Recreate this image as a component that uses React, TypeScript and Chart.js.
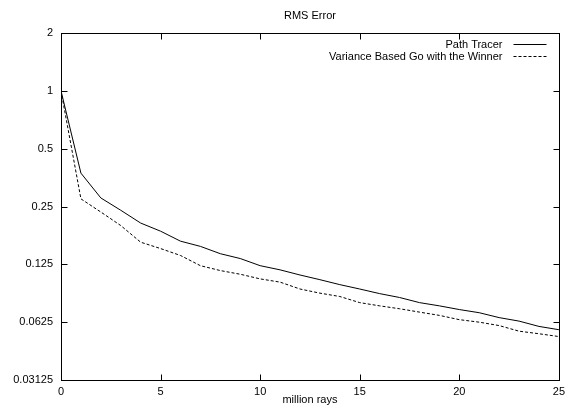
import React, { useEffect, useRef } from 'react';
import { Chart, registerables } from 'chart.js';

Chart.register(...registerables);

const TITLE = 'RMS Error';
const X_TITLE = 'million rays';
const X_VALUES = [0, 1, 2, 3, 4, 5, 6, 7, 8, 9, 10, 11, 12, 13, 14, 15, 16, 17, 18, 19, 20, 21, 22, 23, 24, 25];
const PATH_TRACER = [1.0, 0.373, 0.277, 0.239, 0.205, 0.186, 0.165, 0.155, 0.142, 0.134, 0.123, 0.117, 0.11, 0.104, 0.098, 0.093, 0.088, 0.084, 0.079, 0.076, 0.0727, 0.07, 0.066, 0.0633, 0.0594, 0.0571];
const VBGW = [1.0, 0.274, 0.234, 0.199, 0.163, 0.151, 0.139, 0.123, 0.116, 0.111, 0.105, 0.101, 0.093, 0.0885, 0.085, 0.079, 0.076, 0.0734, 0.0705, 0.0678, 0.0644, 0.0625, 0.06, 0.0561, 0.0544, 0.0526];
const SERIES_LABELS = ['Path Tracer', 'Variance Based Go with the Winner'];
const Y_TICKS = [0.03125, 0.0625, 0.125, 0.25, 0.5, 1, 2];
const X_TICKS = [0, 5, 10, 15, 20, 25];

const FONT_FAMILY = '"Liberation Sans", Arial, Helvetica, sans-serif';

const framePlugin = {
  id: 'gnuFrame',
  afterDraw(chart: any) {
    const { ctx, chartArea: a, scales } = chart;
    const L = Math.round(a.left) + 0.5;
    const R = Math.round(a.right) + 0.5;
    const T = Math.round(a.top) + 0.5;
    const B = Math.round(a.bottom) + 0.5;
    const tl = 6;
    ctx.save();
    ctx.strokeStyle = '#000';
    ctx.lineWidth = 1;
    ctx.setLineDash([]);
    ctx.strokeRect(L, T, R - L, B - T);
    ctx.beginPath();
    for (const v of Y_TICKS) {
      const y = Math.round(scales.y.getPixelForValue(v)) + 0.5;
      ctx.moveTo(L, y);
      ctx.lineTo(L + tl, y);
      ctx.moveTo(R, y);
      ctx.lineTo(R - tl, y);
    }
    for (const v of X_TICKS) {
      const x = Math.round(scales.x.getPixelForValue(v)) + 0.5;
      ctx.moveTo(x, B);
      ctx.lineTo(x, B - tl);
      ctx.moveTo(x, T);
      ctx.lineTo(x, T + tl);
    }
    ctx.stroke();

    ctx.font = `11px ${FONT_FAMILY}`;
    ctx.fillStyle = '#000';
    ctx.textBaseline = 'middle';

    // title centred over the plot area
    ctx.textAlign = 'center';
    ctx.fillText(TITLE, (a.left + a.right) / 2, 16);

    // legend (gnuplot style: text right-aligned, sample to the right)
    ctx.textAlign = 'right';
    chart.data.datasets.forEach((ds: any, i: number) => {
      const y = Math.round(T + 10.5 + i * 12) + 0.5;
      ctx.fillText(ds.label, R - 57, y);
      ctx.beginPath();
      ctx.setLineDash(ds.borderDash || []);
      ctx.moveTo(R - 46, y);
      ctx.lineTo(R - 13, y);
      ctx.stroke();
    });
    ctx.restore();
  },
};

export default function App() {
  const ref = useRef<HTMLCanvasElement | null>(null);

  useEffect(() => {
    if (!ref.current) return;
    const chart = new Chart(ref.current, {
      type: 'line',
      data: {
        datasets: [
          {
            label: SERIES_LABELS[0],
            data: X_VALUES.map((x, i) => ({ x, y: PATH_TRACER[i] })),
            borderColor: '#000',
            borderWidth: 1,
            pointRadius: 0,
            tension: 0,
            fill: false,
          },
          {
            label: SERIES_LABELS[1],
            data: X_VALUES.map((x, i) => ({ x, y: VBGW[i] })),
            borderColor: '#000',
            borderWidth: 1,
            borderDash: [3, 2],
            pointRadius: 0,
            tension: 0,
            fill: false,
          },
        ],
      },
      options: {
        responsive: false,
        animation: false,
        layout: { padding: { left: 0, right: 11, top: 33, bottom: 0 } },
        plugins: {
          legend: { display: false },
          tooltip: { enabled: false },
          title: { display: false },
        },
        scales: {
          x: {
            type: 'linear',
            min: 0,
            max: 25,
            grid: { display: false, drawTicks: false },
            border: { display: false },
            afterBuildTicks: (scale: any) => {
              scale.ticks = X_TICKS.map((v) => ({ value: v }));
            },
            afterFit: (scale: any) => {
              scale.height = 32;
            },
            ticks: {
              color: '#000',
              padding: 5,
              maxRotation: 0,
              autoSkip: false,
              font: { family: FONT_FAMILY, size: 11 },
            },
            title: {
              display: true,
              text: X_TITLE,
              color: '#000',
              font: { family: FONT_FAMILY, size: 11 },
              padding: { top: 0, bottom: 5 },
            },
          },
          y: {
            type: 'logarithmic',
            min: 0.03125,
            max: 2,
            grid: { display: false, drawTicks: false },
            border: { display: false },
            afterBuildTicks: (scale: any) => {
              scale.ticks = Y_TICKS.map((v) => ({ value: v }));
            },
            afterFit: (scale: any) => {
              scale.width = 61;
            },
            ticks: {
              color: '#000',
              padding: 8,
              autoSkip: false,
              font: { family: FONT_FAMILY, size: 11 },
              callback: (v: any) => String(v),
            },
          },
        },
      },
      plugins: [framePlugin],
    });
    return () => chart.destroy();
  }, []);

  return (
    <div style={{ position: 'absolute', left: 0, top: 0, width: 570, height: 412, background: '#fff' }}>
      <canvas ref={ref} width={570} height={412} style={{ display: 'block' }} />
    </div>
  );
}
